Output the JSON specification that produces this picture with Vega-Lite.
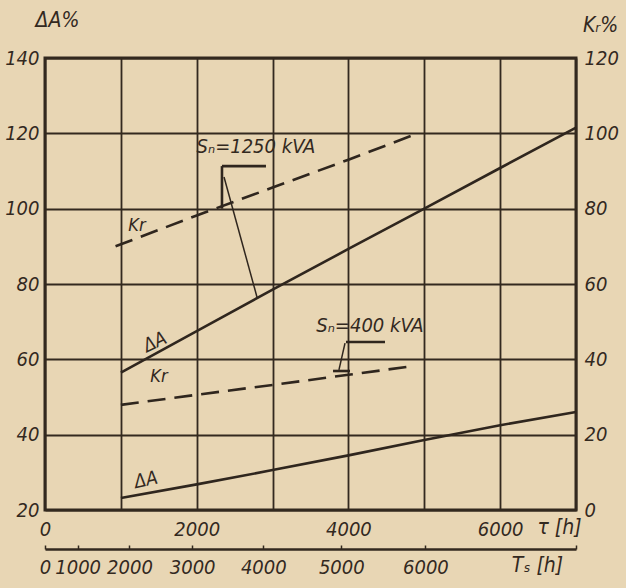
{
  "$schema": "https://vega.github.io/schema/vega-lite/v6.json",
  "width": 531,
  "height": 452,
  "autosize": {"type": "none"},
  "padding": {"left": 45, "top": 58, "right": 50, "bottom": 78},
  "background": "#e8d6b4",
  "config": {
    "view": {"stroke": "#33291f", "strokeWidth": 3},
    "axis": {
      "labelFont": "DejaVu Sans Condensed, Liberation Sans",
      "labelFontStyle": "italic",
      "labelFontSize": 20,
      "labelColor": "#33291f",
      "titleFont": "DejaVu Sans Condensed, Liberation Sans",
      "titleFontStyle": "italic",
      "titleFontWeight": "normal",
      "titleFontSize": 21,
      "titleColor": "#33291f",
      "gridColor": "#33291f",
      "gridOpacity": 1,
      "gridWidth": 1.8,
      "domainColor": "#33291f",
      "tickColor": "#33291f"
    },
    "text": {"font": "DejaVu Sans Condensed, Liberation Sans", "fontStyle": "italic", "color": "#33291f"}
  },
  "datasets": {
    "dA": [
      {"series": "1250 kVA", "tau": 1000, "dA": 56.5},
      {"series": "1250 kVA", "tau": 2000, "dA": 67.5},
      {"series": "1250 kVA", "tau": 3000, "dA": 78.5},
      {"series": "1250 kVA", "tau": 4000, "dA": 89.3},
      {"series": "1250 kVA", "tau": 5000, "dA": 100},
      {"series": "1250 kVA", "tau": 6000, "dA": 110.8},
      {"series": "1250 kVA", "tau": 7000, "dA": 121.5},
      {"series": "400 kVA", "tau": 1000, "dA": 23.2},
      {"series": "400 kVA", "tau": 2000, "dA": 26.8},
      {"series": "400 kVA", "tau": 3000, "dA": 30.6},
      {"series": "400 kVA", "tau": 4000, "dA": 34.5},
      {"series": "400 kVA", "tau": 5000, "dA": 38.6},
      {"series": "400 kVA", "tau": 6000, "dA": 42.5},
      {"series": "400 kVA", "tau": 7000, "dA": 46}
    ],
    "kr": [
      {"series": "1250 kVA", "tau": 930, "kr": 70},
      {"series": "1250 kVA", "tau": 2000, "kr": 78.2},
      {"series": "1250 kVA", "tau": 3000, "kr": 85.6},
      {"series": "1250 kVA", "tau": 4000, "kr": 93},
      {"series": "1250 kVA", "tau": 4850, "kr": 99.5},
      {"series": "400 kVA", "tau": 1000, "kr": 27.9},
      {"series": "400 kVA", "tau": 2000, "kr": 30.6},
      {"series": "400 kVA", "tau": 3000, "kr": 33.2},
      {"series": "400 kVA", "tau": 4000, "kr": 35.9},
      {"series": "400 kVA", "tau": 4850, "kr": 38.2}
    ],
    "bracket": [
      {"tau": 2333, "dA": 111.3, "tau2": 2913, "dA2": 111.3},
      {"tau": 2333, "dA": 111.3, "tau2": 2333, "dA2": 100},
      {"tau": 3968, "dA": 64.6, "tau2": 4482, "dA2": 64.6},
      {"tau": 3797, "dA": 56.9, "tau2": 4021, "dA2": 56.9}
    ],
    "leader": [
      {"tau": 2360, "dA": 108.4, "tau2": 2795, "dA2": 76.5},
      {"tau": 3955, "dA": 64.3, "tau2": 3875, "dA2": 57.2}
    ],
    "ts": [
      {"Ts": 0}, {"Ts": 1000}, {"Ts": 2000}, {"Ts": 3000}, {"Ts": 4000}, {"Ts": 5000}, {"Ts": 6000}
    ]
  },
  "resolve": {"scale": {"x": "independent", "y": "independent"}},
  "layer": [
    {
      "data": {"name": "dA"},
      "mark": {"type": "line", "color": "#2f261e", "strokeWidth": 2.6},
      "encoding": {
        "x": {
          "field": "tau", "type": "quantitative",
          "scale": {"domain": [0, 7000], "nice": false, "zero": false},
          "axis": {
            "orient": "bottom",
            "values": [0, 1000, 2000, 3000, 4000, 5000, 6000, 7000],
            "format": "d",
            "labelExpr": "datum.value % 2000 == 0 && datum.value < 7000 ? datum.label : ''",
            "grid": true, "ticks": false, "domain": false,
            "labelFlush": false, "labelOverlap": false, "labelPadding": 9,
            "title": "τ [h]", "titleX": 514, "titleY": 17,
            "titleAlign": "center", "titleBaseline": "middle"
          }
        },
        "y": {
          "field": "dA", "type": "quantitative",
          "scale": {"domain": [20, 140], "nice": false, "zero": false},
          "axis": {
            "orient": "left",
            "values": [20, 40, 60, 80, 100, 120, 140],
            "grid": true, "ticks": false, "domain": false,
            "labelFlush": false, "labelOverlap": false, "labelPadding": 6,
            "title": "ΔA%", "titleAngle": 0, "titleX": 12, "titleY": -38,
            "titleAlign": "center", "titleBaseline": "middle"
          }
        },
        "detail": {"field": "series"}
      }
    },
    {
      "data": {"name": "bracket"},
      "mark": {"type": "rule", "color": "#2f261e", "strokeWidth": 2.6},
      "encoding": {
        "x": {"field": "tau", "type": "quantitative", "scale": {"domain": [0, 7000], "nice": false, "zero": false}, "axis": null},
        "x2": {"field": "tau2"},
        "y": {"field": "dA", "type": "quantitative", "scale": {"domain": [20, 140], "nice": false, "zero": false}, "axis": null},
        "y2": {"field": "dA2"}
      }
    },
    {
      "data": {"name": "leader"},
      "mark": {"type": "rule", "color": "#2f261e", "strokeWidth": 1.5},
      "encoding": {
        "x": {"field": "tau", "type": "quantitative", "scale": {"domain": [0, 7000], "nice": false, "zero": false}, "axis": null},
        "x2": {"field": "tau2"},
        "y": {"field": "dA", "type": "quantitative", "scale": {"domain": [20, 140], "nice": false, "zero": false}, "axis": null},
        "y2": {"field": "dA2"}
      }
    },
    {
      "data": {"values": [
        {"tau": 2781, "dA": 116.4, "text": "Sₙ=1250 kVA"},
        {"tau": 4284, "dA": 68.8, "text": "Sₙ=400 kVA"}
      ]},
      "mark": {"type": "text", "fontSize": 20, "align": "center", "baseline": "middle"},
      "encoding": {
        "x": {"field": "tau", "type": "quantitative", "scale": {"domain": [0, 7000], "nice": false, "zero": false}, "axis": null},
        "y": {"field": "dA", "type": "quantitative", "scale": {"domain": [20, 140], "nice": false, "zero": false}, "axis": null},
        "text": {"field": "text"}
      }
    },
    {
      "data": {"values": [
        {"tau": 1213, "dA": 95.4, "text": "Kr"},
        {"tau": 1503, "dA": 55.4, "text": "Kr"}
      ]},
      "mark": {"type": "text", "fontSize": 18, "align": "center", "baseline": "middle"},
      "encoding": {
        "x": {"field": "tau", "type": "quantitative", "scale": {"domain": [0, 7000], "nice": false, "zero": false}, "axis": null},
        "y": {"field": "dA", "type": "quantitative", "scale": {"domain": [20, 140], "nice": false, "zero": false}, "axis": null},
        "text": {"field": "text"}
      }
    },
    {
      "data": {"values": [{"tau": 1450, "dA": 64.6, "text": "ΔA"}]},
      "mark": {"type": "text", "fontSize": 19, "align": "center", "baseline": "middle", "angle": -25},
      "encoding": {
        "x": {"field": "tau", "type": "quantitative", "scale": {"domain": [0, 7000], "nice": false, "zero": false}, "axis": null},
        "y": {"field": "dA", "type": "quantitative", "scale": {"domain": [20, 140], "nice": false, "zero": false}, "axis": null},
        "text": {"field": "text"}
      }
    },
    {
      "data": {"values": [{"tau": 1331, "dA": 28, "text": "ΔA"}]},
      "mark": {"type": "text", "fontSize": 19, "align": "center", "baseline": "middle", "angle": -12},
      "encoding": {
        "x": {"field": "tau", "type": "quantitative", "scale": {"domain": [0, 7000], "nice": false, "zero": false}, "axis": null},
        "y": {"field": "dA", "type": "quantitative", "scale": {"domain": [20, 140], "nice": false, "zero": false}, "axis": null},
        "text": {"field": "text"}
      }
    },
    {
      "data": {"name": "kr"},
      "mark": {"type": "line", "color": "#2f261e", "strokeWidth": 2.6, "strokeDash": [18, 9]},
      "encoding": {
        "x": {
          "field": "tau", "type": "quantitative",
          "scale": {"domain": [0, 7000], "nice": false, "zero": false},
          "axis": null
        },
        "y": {
          "field": "kr", "type": "quantitative",
          "scale": {"domain": [0, 120], "nice": false, "zero": false},
          "axis": {
            "orient": "right",
            "values": [0, 20, 40, 60, 80, 100, 120],
            "grid": false, "ticks": false, "domain": false,
            "labelFlush": false, "labelOverlap": false, "labelPadding": 8,
            "title": "Kᵣ%", "titleAngle": 0, "titleX": 24, "titleY": -33,
            "titleAlign": "center", "titleBaseline": "middle"
          }
        },
        "detail": {"field": "series"}
      }
    },
    {
      "data": {"name": "ts"},
      "mark": {"type": "point", "opacity": 0},
      "encoding": {
        "x": {
          "field": "Ts", "type": "quantitative",
          "scale": {"type": "pow", "exponent": 1.37, "domain": [0, 7654], "nice": false, "zero": true},
          "axis": {
            "orient": "bottom", "offset": 39,
            "values": [0, 1000, 2000, 3000, 4000, 5000, 6000, 7654],
            "format": "d",
            "labelExpr": "datum.value > 7000 ? '' : datum.label",
            "grid": false, "domain": true, "domainWidth": 2.5,
            "ticks": true, "tickSize": -4, "tickWidth": 1.5,
            "labelFlush": false, "labelOverlap": false, "labelPadding": 12,
            "title": "Tₛ [h]", "titleX": 492, "titleY": 16,
            "titleAlign": "center", "titleBaseline": "middle"
          }
        }
      }
    }
  ]
}
